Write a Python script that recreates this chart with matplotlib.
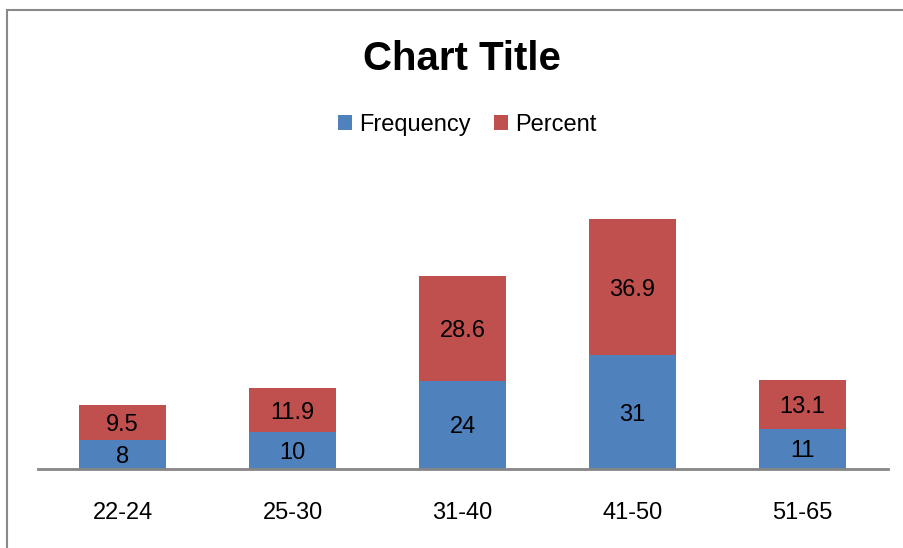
import numpy as np
import matplotlib
matplotlib.use("Agg")
import matplotlib.pyplot as plt
from matplotlib.patches import Rectangle

plt.rcParams['font.family'] = ['Liberation Sans', 'DejaVu Sans']

categories = ["22-24", "25-30", "31-40", "41-50", "51-65"]
frequency = [8, 10, 24, 31, 11]
percent = [9.5, 11.9, 28.6, 36.9, 13.1]

blue = "#4F81BD"
red = "#C0504D"

fig = plt.figure(figsize=(9.04, 5.48), dpi=100)
ax = fig.add_axes([0.0415, 0.1442, 0.9403, 0.5365])

x = np.arange(len(categories))
ax.bar(x, frequency, width=0.51, color=blue, label="Frequency")
ax.bar(x, percent, width=0.51, bottom=frequency, color=red, label="Percent")

for i in range(len(categories)):
    ax.text(x[i], frequency[i] / 2, str(frequency[i]), ha="center", va="center_baseline", fontsize=17)
    ax.text(x[i], frequency[i] + percent[i] / 2, str(percent[i]), ha="center", va="center_baseline", fontsize=17)

ax.set_xlim(-0.5, len(categories) - 0.5)
ax.set_ylim(0, 80)
ax.set_xticks(x)
ax.set_xticklabels(categories, fontsize=17)
ax.tick_params(axis="x", length=0, pad=24)
ax.set_yticks([])
for s in ["top", "right", "left"]:
    ax.spines[s].set_visible(False)
ax.spines["bottom"].set_color("#868686")
ax.spines["bottom"].set_linewidth(2)

fig.text(0.511, 0.892, "Chart Title", ha="center", va="center", fontsize=29, fontweight="bold")
fig.legend(loc="center", bbox_to_anchor=(0.517, 0.772), ncol=2, frameon=False, fontsize=17,
           handlelength=0.6, handleheight=0.6, handletextpad=0.3, columnspacing=1.0)

# outer chart border (cut off at right and bottom)
fig.patches.append(Rectangle((7 / 904, -0.1), 1.2, (548 - 10) / 548 + 0.1, transform=fig.transFigure,
                             fill=False, edgecolor="#898989", linewidth=1.5))

fig.savefig("out.png", dpi=100)
